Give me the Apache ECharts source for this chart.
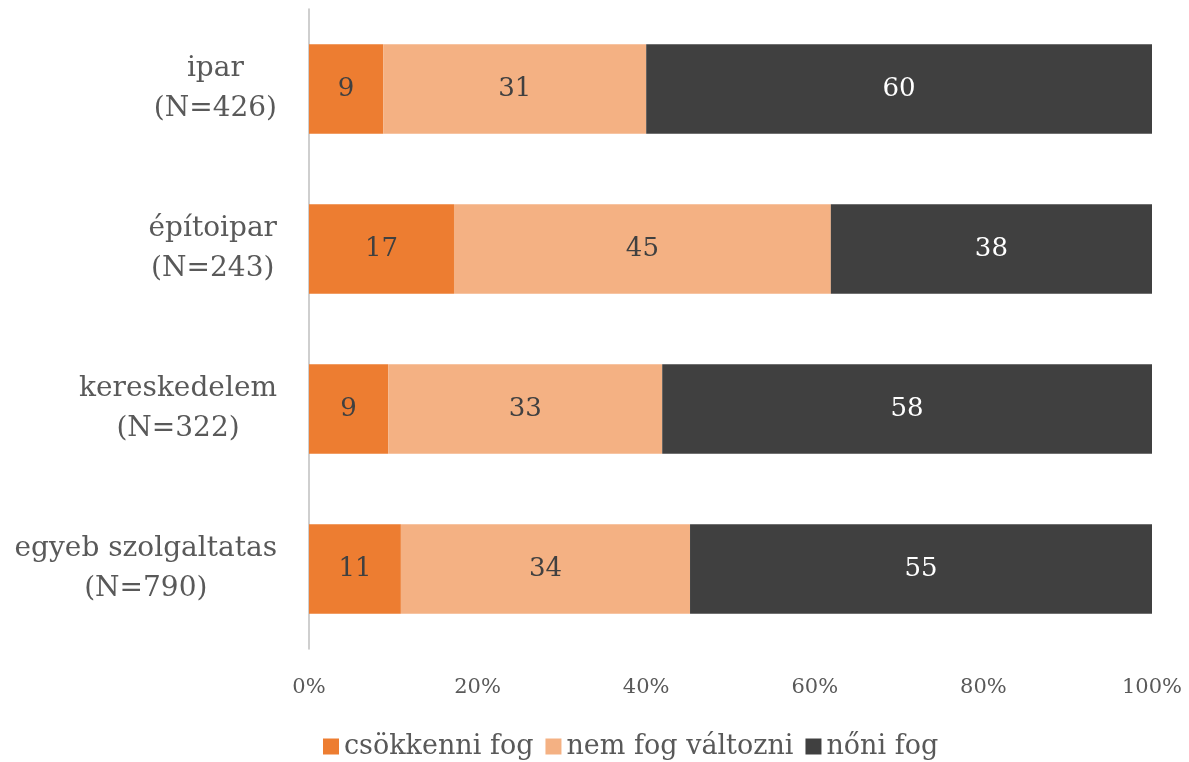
<!DOCTYPE html>
<html>
<head>
<meta charset="utf-8">
<script src="https://cdn.jsdelivr.net/npm/echarts@6/dist/echarts.min.js"></script>
<style>html,body{margin:0;padding:0;background:#fff;}#c{width:1189px;height:762px;}</style>
</head>
<body>
<div id="c"></div>
<script>
const categories = ['ipar', 'építoipar', 'kereskedelem', 'egyeb szolgaltatas'];
const sampleSizes = ['(N=426)', '(N=243)', '(N=322)', '(N=790)'];
const seriesNames = ['csökkenni fog', 'nem fog változni', 'nőni fog'];
const csokkenni = [8.8, 17.2, 9.4, 10.9];
const nemValtozni = [31.2, 44.7, 32.5, 34.3];
const noni = [60.0, 38.1, 58.1, 54.8];
const xTicks = [0, 20, 40, 60, 80, 100];

const FONT = 'DejaVu Serif';
const chart = echarts.init(document.getElementById('c'), null, {renderer: 'canvas'});
const labelCats = categories.map((c, i) => c + '|' + sampleSizes[i]);
function mkSeries(name, data, color, textColor) {
  return {
    name: name, type: 'bar', stack: 'total', data: data, barWidth: '56%',
    itemStyle: {color: color},
    label: {show: true, position: 'inside', color: textColor, fontFamily: FONT, fontSize: 26,
      formatter: p => Math.round(p.value)},
    emphasis: {disabled: true}
  };
}
chart.setOption({
  animation: false,
  backgroundColor: '#ffffff',
  grid: {left: 309, right: 37, top: 9, bottom: 113, containLabel: false},
  legend: {
    top: 728, left: 318, itemWidth: 16, itemHeight: 16, itemGap: 12,
    icon: 'rect',
    textStyle: {fontFamily: FONT, fontSize: 27, color: '#595959'},
    data: seriesNames
  },
  xAxis: {
    type: 'value', min: xTicks[0], max: xTicks[xTicks.length - 1], interval: 20,
    axisLine: {show: false}, axisTick: {show: false}, splitLine: {show: false},
    axisLabel: {formatter: '{value}%', fontFamily: FONT, fontSize: 21, color: '#595959', margin: 28}
  },
  yAxis: {
    type: 'category', inverse: true, data: labelCats,
    axisLine: {show: true, lineStyle: {color: '#BFBFBF', width: 1.5}},
    axisTick: {show: false},
    axisLabel: {
      margin: 32,
      formatter: v => { const p = v.split('|'); return '{a|' + p[0] + '}\n{a|' + p[1] + '}'; },
      rich: {a: {align: 'center', fontFamily: FONT, fontSize: 28, color: '#595959', lineHeight: 40}}
    }
  },
  series: [
    mkSeries(seriesNames[0], csokkenni, '#ED7D31', '#404040'),
    mkSeries(seriesNames[1], nemValtozni, '#F4B183', '#404040'),
    mkSeries(seriesNames[2], noni, '#404040', '#ffffff')
  ]
});
</script>
</body>
</html>
